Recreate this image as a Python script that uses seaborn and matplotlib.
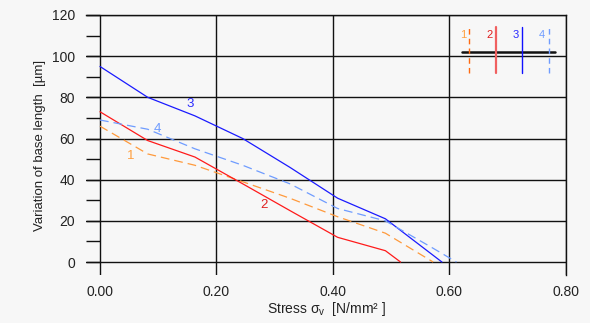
import numpy as np
import pandas as pd
import matplotlib
matplotlib.use("Agg")
import matplotlib.pyplot as plt
import seaborn as sns

# ---- data ----
stress_1 = [0.0, 0.082, 0.163, 0.245, 0.326, 0.408, 0.49, 0.572]
var_1 = [66, 52.5, 47, 39, 31, 22, 14, 0]
stress_2 = [0.0, 0.082, 0.163, 0.245, 0.326, 0.408, 0.49, 0.516]
var_2 = [73, 59, 51, 38, 25, 12, 5.5, 0]
stress_3 = [0.0, 0.082, 0.163, 0.245, 0.326, 0.408, 0.49, 0.587]
var_3 = [95, 80, 71, 60, 46, 31, 21, 0]
stress_4 = [0.0, 0.082, 0.163, 0.245, 0.326, 0.408, 0.49, 0.57, 0.612]
var_4 = [69, 64.5, 55, 47, 38, 26, 20, 7, 0]
series_names = ["1", "2", "3", "4"]
x_ticks = [0.0, 0.2, 0.4, 0.6, 0.8]
x_tick_labels = ["0.00", "0.20", "0.40", "0.60", "0.80"]
y_ticks = [0, 20, 40, 60, 80, 100, 120]

frames = []
for name, xs, ys in zip(series_names, [stress_1, stress_2, stress_3, stress_4],
                        [var_1, var_2, var_3, var_4]):
    frames.append(pd.DataFrame({"stress": xs, "var": ys, "series": name}))
df = pd.concat(frames, ignore_index=True)

line_colors = {"1": "#ff9a3c", "2": "#ff1a1a", "3": "#1a1aff", "4": "#6f9cff"}
label_colors = {"1": "#ffa040", "2": "#e02020", "3": "#2a2aff", "4": "#6f9cff"}
legend_colors = {"1": "#ff6a10", "2": "#f06060", "3": "#1010ff", "4": "#6f9cff"}
dash_styles = {"1": (7, 4), "2": "", "3": "", "4": (7, 4)}

sns.set_style("white")
plt.rcParams["font.family"] = ["Liberation Sans", "DejaVu Sans"]
plt.rcParams["mathtext.fontset"] = "custom"
plt.rcParams["mathtext.rm"] = "Liberation Sans"
plt.rcParams["mathtext.it"] = "Liberation Sans:italic"

fig = plt.figure(figsize=(5.9, 3.23), dpi=100, facecolor="#f7f7f7")
ax = fig.add_axes([86 / 590, 1 - 275 / 323, (566 - 86) / 590, (275 - 15) / 323])
ax.set_facecolor("#f7f7f7")

sns.lineplot(data=df, x="stress", y="var", hue="series", style="series",
             palette=line_colors, dashes=dash_styles, linewidth=0.9,
             legend=False, ax=ax, estimator=None)

ax.set_xlim(-0.024, 0.8)
ax.set_ylim(-6.3, 120)

ax.set_xticks(x_ticks)
ax.set_xticklabels(x_tick_labels)
ax.set_yticks(y_ticks)
ax.set_yticks([10, 30, 50, 70, 90, 110], minor=True)
ax.grid(True, which="major", color="#111111", linewidth=1.0)
ax.set_axisbelow(True)

ax.tick_params(axis="x", length=0, pad=7, labelsize=10, labelcolor="#222222")
ax.tick_params(axis="y", which="both", left=True, direction="in", length=10, width=1.0,
               color="#111111", pad=8, labelsize=10, labelcolor="#222222")
ax.tick_params(axis="y", which="minor", labelleft=False)

for side in ["left", "bottom"]:
    ax.spines[side].set_visible(False)
for side in ["top", "right"]:
    ax.spines[side].set_visible(True)
    ax.spines[side].set_color("#111111")
    ax.spines[side].set_linewidth(1.0)

ax.set_xlabel("Stress σ$_{\\mathrm{v}}$  [N/mm² ]", fontsize=10, color="#222222", labelpad=1)
ax.set_ylabel("Variation of base length  [µm]", fontsize=9.5, color="#222222", labelpad=4)

# in-plot curve labels
curve_label_pos = {"1": (0.053, 51.5), "2": (0.282, 27.5), "3": (0.155, 77), "4": (0.099, 64.5)}
for name, (lx, ly) in curve_label_pos.items():
    ax.text(lx, ly, name, color=label_colors[name], fontsize=9.5, ha="center", va="center")

# custom key in the top-right corner
ax.plot([0.621, 0.781], [102.2, 102.2], color="#111111", linewidth=1.8, zorder=5)
key_x = {"1": 0.634, "2": 0.680, "3": 0.725, "4": 0.770}
key_lw = {"1": 1.0, "2": 1.6, "3": 1.0, "4": 1.0}
for name in series_names:
    ls = (0, (4, 3)) if dash_styles[name] else "-"
    ax.plot([key_x[name], key_x[name]], [91.7, 114.3], color=legend_colors[name],
            linewidth=key_lw[name], linestyle=ls, zorder=6)
    ax.text(key_x[name] - 0.011, 110.5, name, color=label_colors[name], fontsize=8,
            ha="center", va="center")

fig.savefig("out.png", dpi=100, facecolor=fig.get_facecolor())
